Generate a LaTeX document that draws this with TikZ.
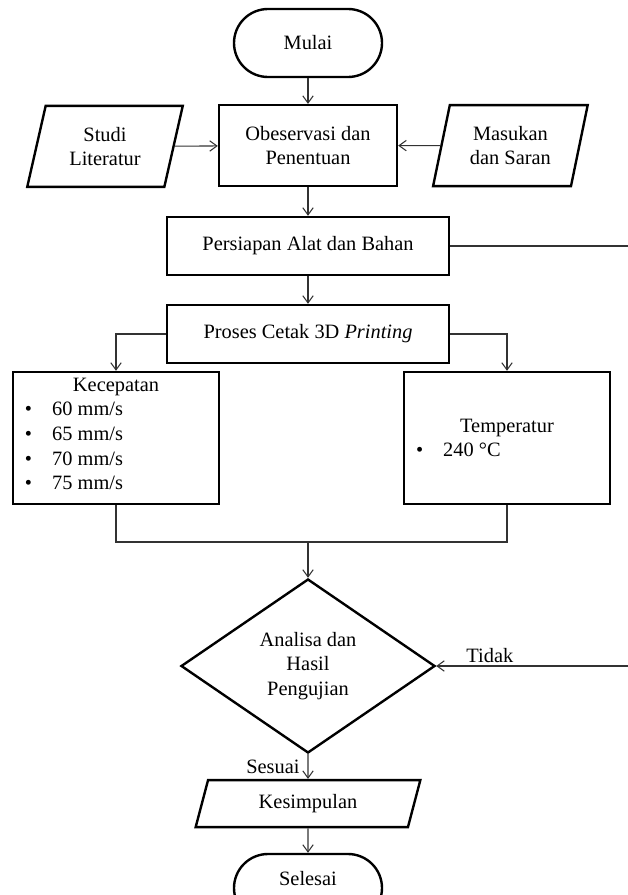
\documentclass[tikz,border=0pt]{standalone}
\usepackage{fontspec}
\setmainfont{Liberation Serif}
\usetikzlibrary{shapes.geometric, arrows.meta, positioning, calc}
\definecolor{flowline}{RGB}{50, 50, 50}
\tikzset{
  process/.style={draw, line width=1.7pt, rectangle, align=center, inner sep=0.15cm},
  terminal/.style={draw, line width=1.7pt, rectangle, rounded corners=0.85cm, minimum width=3.7cm, minimum height=1.7cm, align=center},
  inout/.style={draw, line width=1.7pt, trapezium, trapezium left angle=75, trapezium right angle=105, trapezium stretches=true, align=center, inner sep=2pt},
  decision/.style={draw, line width=1.7pt, diamond, align=center, inner sep=0pt, minimum width=6.35cm, minimum height=4.35cm},
  flow/.style={draw=flowline, line width=0.75pt, -{Straight Barb[length=1.8mm, width=2.6mm]}},
  link/.style={draw=flowline, line width=0.75pt}
}
\newcommand{\bulletline}[1]{\makebox[0.83cm][l]{\hspace{0.15cm}\textbullet}#1}

\begin{document}
\begin{tikzpicture}[font=\fontsize{14.5}{17.5}\selectfont]
  \useasboundingbox (0, 0) rectangle (15.675, -22.375);

  % Main column
  \node[terminal] (mulai) at (7.7, -1.075) {Mulai};
  \node[process, minimum width=4.45cm, minimum height=2.025cm] (observasi) at (7.7, -3.64) {Obeservasi dan\\Penentuan};
  \node[inout, minimum width=3.9cm, minimum height=2.025cm] (studi) at (2.625, -3.66) {Studi\\Literatur};
  \node[inout, minimum width=3.875cm, minimum height=2.025cm] (masukan) at (12.76, -3.64) {Masukan\\dan Saran};
  \node[process, minimum width=7.05cm, minimum height=1.45cm] (persiapan) at (7.7, -6.15) {Persiapan Alat dan Bahan};
  \node[process, minimum width=7.05cm, minimum height=1.45cm] (proses) at (7.7, -8.35) {Proses Cetak 3D \textit{Printing}};

  % Parameters
  \node[process, minimum width=5.15cm, minimum height=3.3cm] (kecepatan) at (2.9, -10.95) {%
    \parbox[t][3.0cm][t]{4.85cm}{{\centering Kecepatan\par}
      \bulletline{60 mm/s}\par
      \bulletline{65 mm/s}\par
      \bulletline{70 mm/s}\par
      \bulletline{75 mm/s}}};
  \node[process, minimum width=5.15cm, minimum height=3.3cm] (temperatur) at (12.675, -10.95) {%
    \parbox{4.85cm}{{\centering Temperatur\par}
      \bulletline{240 °C}}};

  \coordinate (gabung) at (7.7, -13.55);
  \node[decision] (analisa) at (7.7, -16.65) {Analisa dan\\Hasil\\Pengujian};
  \node[inout, minimum width=5.625cm, minimum height=1.175cm] (kesimpulan) at (7.7, -20.09) {Kesimpulan};
  \node[terminal, text depth=0.5cm] (selesai) at (7.7, -22.2) {Selesai};

  % Return line (cut at the right edge)
  \coordinate (balikAtas) at (15.7, -6.15);
  \coordinate (balikBawah) at (15.7, -16.65);

  % Connectors
  \draw[flow] (mulai) -- (observasi);
  \draw[flow] (studi) -- (observasi);
  \draw[flow] (masukan) -- (observasi);
  \draw[flow] (observasi) -- (persiapan);
  \draw[flow] (persiapan) -- (proses);
  \draw[link] (persiapan) -- (balikAtas);
  \draw[flow] (proses.west) -| (kecepatan.north);
  \draw[flow] (proses.east) -| (temperatur.north);
  \draw[link] (kecepatan.south) |- (gabung) -| (temperatur.south);
  \draw[flow] (gabung) -- (analisa.north);
  \draw[flow] (balikBawah) -- node[above, pos=0.72, inner sep=2pt] {Tidak} (analisa.east);
  \draw[flow] (analisa.south) -- node[left=0.2cm, inner sep=0pt] {Sesuai} (kesimpulan.north);
  \draw[flow] (kesimpulan) -- (selesai);
\end{tikzpicture}
\end{document}
